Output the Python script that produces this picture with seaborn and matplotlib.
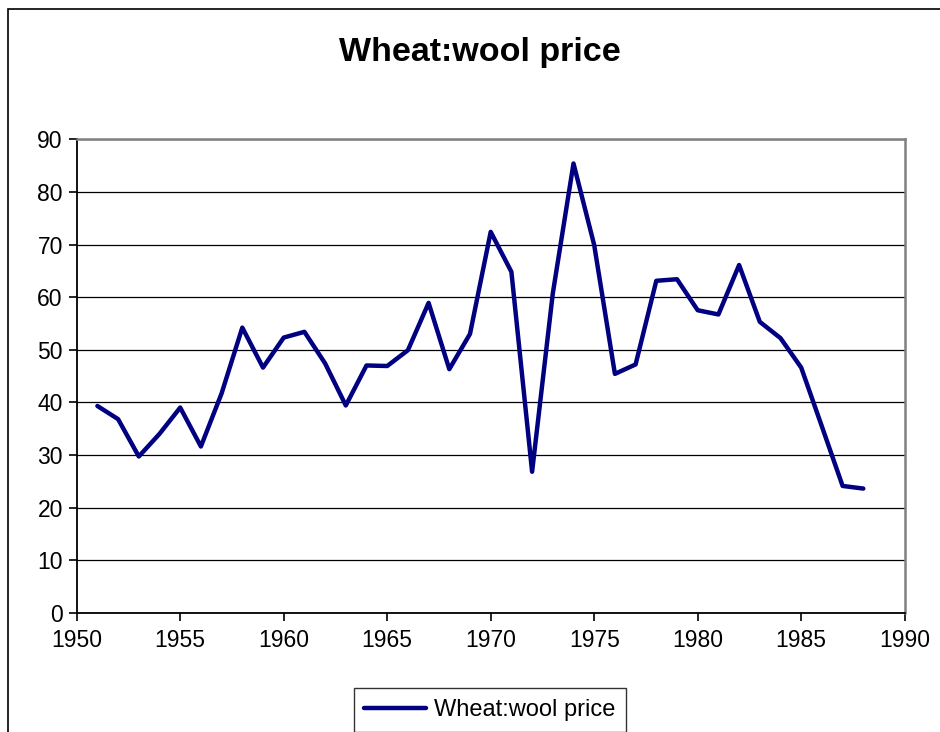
import seaborn as sns
import pandas as pd
import matplotlib.pyplot as plt
from matplotlib.patches import Rectangle

# Values
years = list(range(1951, 1989))
price = [39.3, 36.8, 29.7, 34.0, 39.0, 31.6, 41.7, 54.2, 46.6, 52.3,
         53.4, 47.4, 39.4, 47.0, 46.9, 49.9, 58.9, 46.3, 53.0, 72.4,
         64.8, 26.8, 60.7, 85.4, 69.9, 45.4, 47.2, 63.1, 63.4, 57.5,
         56.7, 66.1, 55.3, 52.2, 46.6, 35.4, 24.1, 23.6]
series_name = 'Wheat:wool price'

df = pd.DataFrame({'year': years, 'price': price, 'series': series_name})

sns.set_style('white')
plt.rcParams['font.family'] = ['Liberation Sans', 'DejaVu Sans']
plt.rcParams['text.color'] = 'black'
plt.rcParams['xtick.color'] = 'black'
plt.rcParams['ytick.color'] = 'black'

W, H = 940, 732
fig = plt.figure(figsize=(W / 100, H / 100), dpi=100)
ax = fig.add_axes([76.7 / W, 1 - 612.7 / H, (904.7 - 76.7) / W, (612.7 - 139.3) / H])

sns.lineplot(data=df, x='year', y='price', hue='series', palette=['#000080'],
             linewidth=3.2, ax=ax, legend=False)

ax.set_xlim(1950, 1990)
ax.set_ylim(0, 90)
ax.set_xticks(range(1950, 1991, 5))
ax.set_yticks(range(0, 91, 10))
ax.set_xlabel('')
ax.set_ylabel('')
ax.yaxis.grid(True, color='black', linewidth=0.9)
ax.xaxis.grid(False)
ax.tick_params(axis='both', labelsize=16.5, length=6, width=1.2, direction='out',
               colors='black', left=True, bottom=True)
ax.tick_params(axis='x', pad=6)
ax.tick_params(axis='y', pad=4)
for side in ['left', 'bottom']:
    ax.spines[side].set_color('black')
    ax.spines[side].set_linewidth(1.3)
for side in ['top', 'right']:
    ax.spines[side].set_color('#808080')
    ax.spines[side].set_linewidth(1.8)

fig.text(480 / W, 1 - 52 / H, series_name, ha='center', va='center',
         fontsize=24.5, fontweight='bold', color='black')

# outer chart frame
fig.patches.append(Rectangle((8 / W, -0.1), 1.2, 1 - 9 / H + 0.1, transform=fig.transFigure,
                             fill=False, edgecolor='black', linewidth=1.2))

handle = plt.Line2D([], [], color='#000080', linewidth=3.2)
leg = fig.legend([handle], [series_name], loc='center', bbox_to_anchor=(490 / W, 1 - 710 / H),
                 fontsize=17, frameon=True, fancybox=False, handlelength=2.6,
                 handletextpad=0.35, borderpad=0.45, edgecolor='black')
leg.get_frame().set_linewidth(1.0)

fig.savefig('out.png', dpi=100)
